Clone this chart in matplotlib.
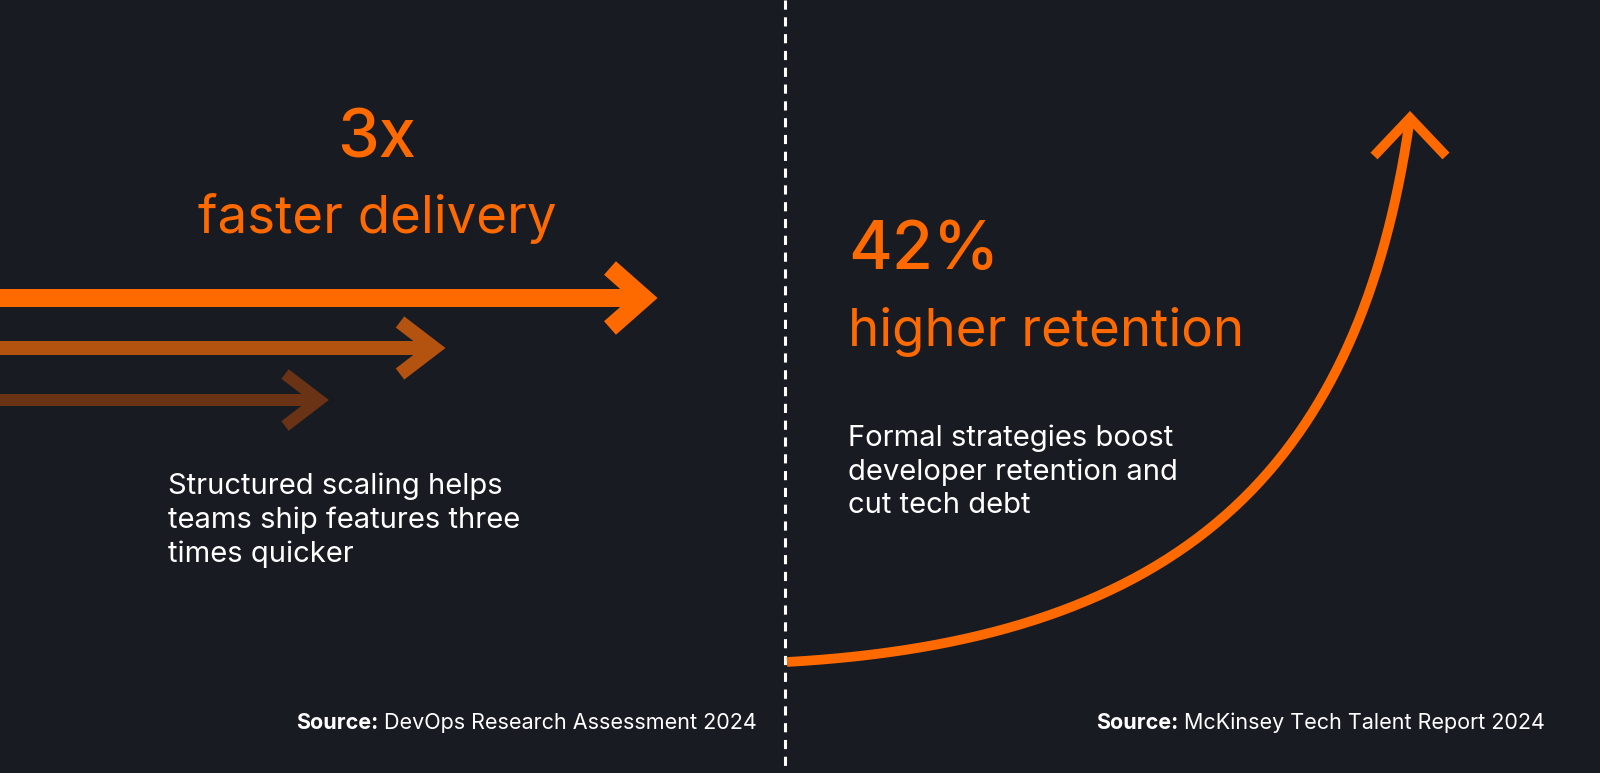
import numpy as np
import matplotlib
matplotlib.use("Agg")
import matplotlib.pyplot as plt

# data
arrow_ends = [650, 440, 325]          # arrow tip positions (delivery speed)
arrow_rows = [298, 348, 400]
arrow_colors = ["#ff6a00", "#b4520f", "#6a3316"]
arrow_widths = [18, 14, 12]
curve_ctrl_x = [787, 1180, 1360, 1410]   # bezier control points of growth curve
curve_ctrl_y = [662, 640, 470, 118]

BG = "#181b22"
OR = "#ff6a00"
plt.rcParams["font.family"] = "Inter"

fig = plt.figure(figsize=(16, 7.73), dpi=100, facecolor=BG)
ax = fig.add_axes([0, 0, 1, 1])
ax.set_xlim(0, 1600); ax.set_ylim(773, 0); ax.axis("off")
ax.set_facecolor(BG)

for end, y, c, w in zip(arrow_ends, arrow_rows, arrow_colors, arrow_widths):
    ax.plot([0, end - 8], [y, y], color=c, lw=w * 0.72, solid_capstyle="butt")
    h = 30 if w > 15 else 26
    ax.plot([end - 40, end - 6, end - 40], [y - h, y, y + h], color=c, lw=w * 0.72,
            solid_joinstyle="miter", solid_capstyle="butt")

ax.plot([785, 785], [0, 773], color="white", lw=2.2, ls=(0, (3, 2.5)))

t = np.linspace(0, 1, 200)[:, None]
P = np.array([curve_ctrl_x, curve_ctrl_y], float).T
B = ((1 - t) ** 3 * P[0] + 3 * (1 - t) ** 2 * t * P[1]
     + 3 * (1 - t) * t ** 2 * P[2] + t ** 3 * P[3])
ax.plot(B[:, 0], B[:, 1], color=OR, lw=7, solid_capstyle="butt")
tx, ty = curve_ctrl_x[-1], curve_ctrl_y[-1]
ax.plot([tx - 36, tx, tx + 36], [ty + 38, ty, ty + 38], color=OR, lw=7,
        solid_joinstyle="miter", solid_capstyle="butt")

ax.text(377, 140, "3x", color=OR, fontsize=48, fontweight="medium", ha="center", va="center")
ax.text(377, 218, "faster delivery", color=OR, fontsize=38, ha="center", va="center")
ax.text(848, 252, "42%", color=OR, fontsize=48, fontweight="medium", ha="left", va="center")
ax.text(848, 332, "higher retention", color=OR, fontsize=38, ha="left", va="center")

ax.text(168, 520, "Structured scaling helps\nteams ship features three\ntimes quicker",
        color="white", fontsize=21, ha="left", va="center", linespacing=1.3)
ax.text(848, 472, "Formal strategies boost\ndeveloper retention and\ncut tech debt",
        color="white", fontsize=21, ha="left", va="center", linespacing=1.3)

for xr, src in [(757, "DevOps Research Assessment 2024"), (1545, "McKinsey Tech Talent Report 2024")]:
    t2 = ax.text(xr, 723, src, color="white", fontsize=15.5, ha="right", va="center")
    fig.canvas.draw()
    bb = t2.get_window_extent().transformed(ax.transData.inverted())
    ax.text(bb.x0 - 6, 723, "Source:", color="white", fontsize=15.5, fontweight="bold",
            ha="right", va="center")

fig.savefig("out.png", dpi=100, facecolor=BG)
